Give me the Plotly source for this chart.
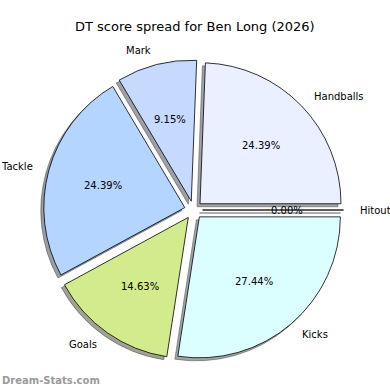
import math
import plotly.graph_objects as go

# ---- data ----
labels = ["Hitout", "Handballs", "Mark", "Tackle", "Goals", "Kicks"]
values = [0, 40, 15, 40, 24, 45]
colors = ["#f0f8ff", "#eaf0ff", "#c6d9ff", "#b4d5ff", "#d2eb8c", "#dbffff"]
title_text = "DT score spread for Ben Long (2026)"
watermark = "Dream-Stats.com"

# ---- geometry (pixels) ----
W = H = 390
CX, CY = 193.5, 210.0   # pie centre, from top-left
R = 141.0               # radius
PULL = 0.064            # explode fraction
SHADOW = (-3.0, 3.0)    # shadow offset (px, screen)
FONT = "DejaVu Sans"


def dom(cx, cy):
    half = R * (1 + PULL)
    return dict(x=[(cx - half) / W, (cx + half) / W],
                y=[(H - cy - half) / H, (H - cy + half) / H])


def shade(hexc):
    h = hexc.lstrip("#")
    r, g, b = (int(h[i:i + 2], 16) for i in (0, 2, 4))
    return "rgba(%d,%d,%d,0.5)" % (r * 0.3, g * 0.3, b * 0.3)


shadow_cols = [shade(c) for c in colors]

fig = go.Figure()
common = dict(labels=labels, values=values, sort=False, direction="counterclockwise",
              rotation=90, pull=[PULL] * len(values), textinfo="none",
              hoverinfo="skip", showlegend=False)
fig.add_trace(go.Pie(domain=dom(CX + SHADOW[0], CY + SHADOW[1]),
                     marker=dict(colors=shadow_cols, line=dict(color=shadow_cols, width=1)),
                     **common))
fig.add_trace(go.Pie(domain=dom(CX, CY),
                     marker=dict(colors=colors, line=dict(color="#000000", width=0.8)),
                     **common))

# labels and percentages, placed like matplotlib (labeldistance 1.1, pctdistance 0.6)
total = sum(values)
start = 0.0
annots = []
for lab, v in zip(labels, values):
    ang = 360.0 * v / total
    mid = math.radians(start + ang / 2)
    start += ang
    ox = CX + PULL * R * math.cos(mid)
    oy = CY - PULL * R * math.sin(mid)
    lx = ox + 1.1 * R * math.cos(mid)
    ly = oy - 1.1 * R * math.sin(mid)
    px = ox + 0.6 * R * math.cos(mid)
    py = oy - 0.6 * R * math.sin(mid)
    annots.append(dict(x=lx / W, y=1 - ly / H, xref="paper", yref="paper", text=lab,
                       showarrow=False, xanchor="left" if math.cos(mid) > 0 else "right",
                       yanchor="middle", font=dict(family=FONT, size=10, color="#000")))
    annots.append(dict(x=px / W, y=1 - py / H, xref="paper", yref="paper",
                       text="%.2f%%" % (100.0 * v / total), showarrow=False,
                       xanchor="center", yanchor="middle",
                       font=dict(family=FONT, size=10, color="#000")))

annots.append(dict(x=0.5, y=1 - 27 / H, xref="paper", yref="paper", text=title_text,
                   showarrow=False, xanchor="center", yanchor="middle",
                   font=dict(family=FONT, size=13, color="#000")))
annots.append(dict(x=0, y=1 - 380 / H, xref="paper", yref="paper", text="<b>" + watermark + "</b>",
                   showarrow=False, xanchor="left", yanchor="middle",
                   font=dict(family=FONT, size=10, color="#9a9a9a")))

fig.update_layout(width=W, height=H, margin=dict(l=0, r=0, t=0, b=0),
                  paper_bgcolor="white", plot_bgcolor="white", annotations=annots)
fig.write_html("out.html", config={"displayModeBar": False},
               post_script="document.body.style.margin='0px';document.body.style.overflow='hidden';")
